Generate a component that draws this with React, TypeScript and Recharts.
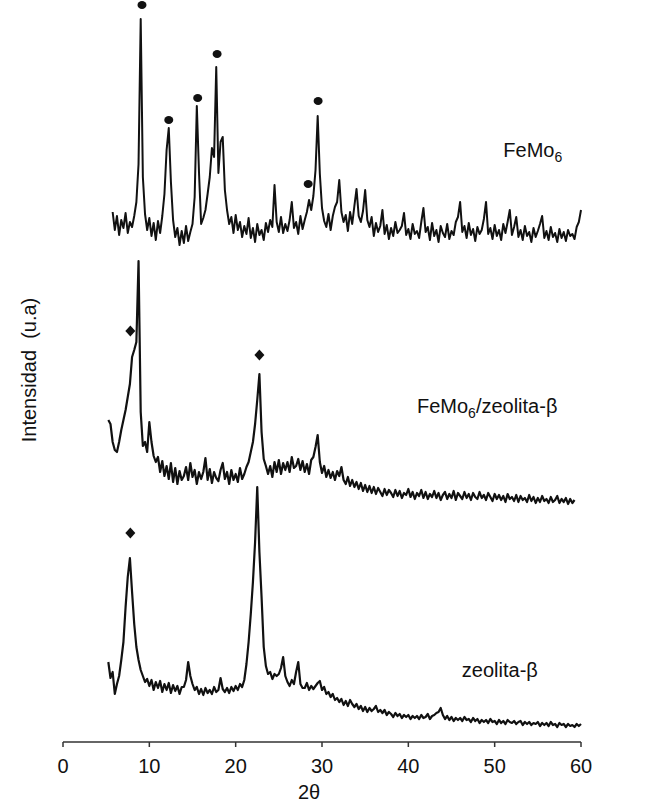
import {
    ComposedChart,
    Line,
    Scatter,
    XAxis,
    YAxis,
} from "recharts";

// scan step of the diffractograms (degrees 2θ)
const STEP = 0.25;

// FeMo6 pattern, starts at 5.75°, one row per degree
const feMo6Start = 5.75;
const feMo6Intensity = [
    530,
    512, 526, 507, 522, // 6
    514, 529, 509, 520, // 7
    515, 526, 540, 578, // 8
    723, 565, 528, 512, // 9
    524, 506, 519, 502, // 10
    521, 509, 526, 548, // 11
    592, 614, 560, 522, // 12
    505, 514, 497, 511, // 13
    499, 516, 501, 510, // 14
    518, 545, 636, 570, // 15
    518, 524, 532, 548, // 16
    565, 594, 585, 675, // 17
    569, 600, 605, 552, // 18
    532, 518, 525, 509, // 19
    527, 512, 520, 505, // 20
    516, 508, 524, 504, // 21
    514, 500, 518, 507, // 22
    512, 502, 519, 510, // 23
    522, 515, 557, 520, // 24
    510, 525, 509, 518, // 25
    511, 522, 540, 514, // 26
    520, 508, 526, 513, // 27
    522, 530, 542, 532, // 28
    546, 572, 626, 568, // 29
    534, 521, 515, 528, // 30
    512, 526, 535, 540, // 31
    562, 530, 520, 527, // 32
    511, 530, 518, 536, // 33
    553, 526, 520, 531, // 34
    552, 522, 515, 525, // 35
    506, 519, 510, 516, // 36
    532, 508, 517, 503, // 37
    514, 506, 520, 509, // 38
    512, 516, 529, 507, // 39
    513, 503, 518, 508, // 40
    511, 504, 520, 534, // 41
    510, 515, 502, 519, // 42
    506, 512, 500, 516, // 43
    509, 505, 518, 503, // 44
    511, 507, 520, 525, // 45
    540, 510, 516, 504, // 46
    519, 507, 513, 501, // 47
    515, 508, 512, 523, // 48
    540, 508, 514, 503, // 49
    517, 506, 512, 502, // 50
    518, 509, 520, 532, // 51
    507, 515, 525, 505, // 52
    512, 502, 516, 506, // 53
    510, 500, 514, 505, // 54
    511, 518, 526, 504, // 55
    511, 502, 515, 505, // 56
    509, 500, 513, 504, // 57
    510, 501, 512, 506, // 58
    508, 503, 515, 520, // 59
    532, // 60
];

// FeMo6/zeolita-β pattern, starts at 5.25°
const supportedStart = 5.25;
const supportedIntensity = [
    322, 318, 300,
    292, 290, 300, 312, // 6
    322, 332, 345, 358, // 7
    385, 392, 400, 481, // 8
    330, 296, 300, 290, // 9
    320, 300, 286, 280, // 10
    285, 270, 281, 266, // 11
    276, 263, 279, 260, // 12
    274, 258, 271, 262, // 13
    266, 275, 262, 279, // 14
    265, 272, 258, 270, // 15
    263, 270, 284, 262, // 16
    273, 259, 270, 264, // 17
    261, 272, 279, 263, // 18
    270, 258, 272, 262, // 19
    268, 260, 274, 263, // 20
    268, 275, 280, 290, // 21
    300, 318, 342, 368, // 22
    310, 283, 276, 268, // 23
    276, 265, 280, 270, // 24
    282, 268, 279, 272, // 25
    280, 270, 285, 274, // 26
    276, 283, 272, 281, // 27
    270, 278, 268, 282, // 28
    285, 295, 307, 280, // 29
    269, 276, 265, 272, // 30
    264, 270, 262, 271, // 31
    266, 275, 262, 258, // 32
    265, 256, 262, 255, // 33
    260, 253, 259, 251, // 34
    257, 250, 256, 249, // 35
    255, 248, 254, 250, // 36
    246, 253, 247, 252, // 37
    249, 245, 252, 246, // 38
    251, 244, 249, 247, // 39
    253, 245, 250, 243, // 40
    249, 246, 252, 244, // 41
    250, 243, 248, 245, // 42
    251, 244, 249, 242, // 43
    247, 250, 243, 248, // 44
    244, 251, 242, 249, // 45
    246, 243, 250, 244, // 46
    248, 242, 249, 245, // 47
    243, 250, 244, 247, // 48
    242, 249, 245, 241, // 49
    248, 243, 247, 242, // 50
    246, 240, 248, 243, // 51
    245, 241, 247, 240, // 52
    246, 242, 244, 240, // 53
    247, 241, 245, 239, // 54
    244, 240, 246, 241, // 55
    243, 239, 245, 240, // 56
    242, 246, 239, 243, // 57
    240, 244, 238, 243, // 58
    239, 242, // 59
];

// zeolita-β pattern, starts at 5.25°
const zeoliteStart = 5.25;
const zeoliteIntensity = [
    80, 64, 70,
    48, 58, 66, 82, // 6
    100, 135, 165, 184, // 7
    150, 118, 95, 82, // 8
    72, 66, 60, 63, // 9
    56, 62, 52, 60, // 10
    54, 61, 50, 58, // 11
    52, 59, 49, 57, // 12
    51, 56, 48, 55, // 13
    55, 62, 80, 66, // 14
    58, 52, 55, 48, // 15
    53, 47, 54, 49, // 16
    52, 48, 55, 50, // 17
    52, 64, 53, 50, // 18
    54, 49, 55, 51, // 19
    56, 52, 58, 55, // 20
    62, 78, 100, 128, // 21
    160, 200, 255, 190, // 22
    145, 95, 76, 68, // 23
    70, 63, 68, 66, // 24
    68, 74, 85, 66, // 25
    60, 56, 62, 58, // 26
    70, 80, 58, 54, // 27
    54, 59, 52, 56, // 28
    53, 56, 59, 61, // 29
    52, 55, 48, 50, // 30
    45, 48, 42, 44, // 31
    40, 43, 37, 41, // 32
    36, 42, 38, 35, // 33
    38, 33, 36, 31, // 34
    35, 30, 34, 31, // 35
    33, 36, 30, 32, // 36
    29, 32, 27, 30, // 37
    28, 25, 29, 26, // 38
    28, 24, 27, 25, // 39
    27, 23, 26, 24, // 40
    26, 23, 27, 24, // 41
    25, 28, 23, 26, // 42
    27, 29, 30, 34, // 43
    27, 23, 26, 22, // 44
    25, 21, 24, 22, // 45
    24, 21, 25, 22, // 46
    23, 20, 24, 21, // 47
    23, 19, 22, 20, // 48
    22, 19, 23, 20, // 49
    21, 18, 22, 19, // 50
    21, 18, 22, 20, // 51
    19, 21, 18, 20, // 52
    21, 17, 20, 18, // 53
    20, 17, 19, 18, // 54
    20, 16, 19, 17, // 55
    19, 16, 20, 17, // 56
    18, 15, 19, 17, // 57
    18, 15, 18, 16, // 58
    17, 15, 18, 16, // 59
    18, // 60
];

// peak markers: ● FeMo6 phase, ◆ zeolita-β
const circleMarks = [
    { x: 9.15, y: 737 },
    { x: 12.25, y: 622 },
    { x: 15.6, y: 644 },
    { x: 17.85, y: 688 },
    { x: 28.4, y: 558 },
    { x: 29.55, y: 641 },
];
const diamondMarks = [
    { x: 7.8, y: 411 },
    { x: 22.75, y: 387 },
    { x: 7.8, y: 209 },
];

// sample names written beside each trace
const sampleLabels = [
    { x: 51.0, y: 585, name: "FeMo", sub: "6", rest: "" },
    { x: 41.0, y: 329, name: "FeMo", sub: "6", rest: "/zeolita-β" },
    { x: 46.2, y: 65, name: "zeolita-β", sub: "", rest: "" },
];

const xTicks = [0, 10, 20, 30, 40, 50, 60];

const toPoints = (start: number, values: number[]) =>
    values.map((y, i) => ({ x: start + i * STEP, y }));

const feMo6Data = toPoints(feMo6Start, feMo6Intensity);
const supportedData = toPoints(supportedStart, supportedIntensity);
const zeoliteData = toPoints(zeoliteStart, zeoliteIntensity);

const FONT = "'Liberation Sans', Arial, Helvetica, sans-serif";
const INK = "#111";

const CircleMark = ({ cx, cy }: any) => (
    <ellipse cx={cx} cy={cy} rx={4.5} ry={4} fill={INK} />
);

const DiamondMark = ({ cx, cy }: any) => (
    <polygon
        points={`${cx},${cy - 5.5} ${cx + 5},${cy} ${cx},${cy + 5.5} ${cx - 5},${cy}`}
        fill={INK}
    />
);

const SampleLabel = ({ cx, cy, payload }: any) => (
    <text x={cx} y={cy} fontFamily={FONT} fontSize={20} fill={INK}>
        <tspan>{payload.name}</tspan>
        {payload.sub && (
            <tspan dy={5} fontSize={14}>
                {payload.sub}
            </tspan>
        )}
        {payload.rest && <tspan dy={-5}>{payload.rest}</tspan>}
    </text>
);

export default function App() {
    return (
        <div style={{ position: "absolute", left: 0, top: 0, background: "#fff" }}>
            <ComposedChart
                width={650}
                height={810}
                margin={{ top: 0, right: 69, left: 0, bottom: 0 }}
            >
                <XAxis
                    type="number"
                    dataKey="x"
                    domain={[0, 60]}
                    ticks={xTicks}
                    height={68}
                    tickSize={5}
                    tickMargin={12}
                    axisLine={{ stroke: "#333", strokeWidth: 1.5 }}
                    tickLine={{ stroke: "#333", strokeWidth: 1.5 }}
                    tick={{ fill: INK, fontSize: 20, fontFamily: FONT }}
                    label={{
                        content: () => (
                            <text
                                x={309}
                                y={799}
                                textAnchor="middle"
                                fontFamily={FONT}
                                fontSize={20}
                                fill={INK}
                            >
                                2θ
                            </text>
                        ),
                    }}
                />
                <YAxis
                    type="number"
                    dataKey="y"
                    domain={[0, 742]}
                    width={63}
                    axisLine={false}
                    tickLine={false}
                    tick={false}
                    label={{
                        content: () => (
                            <text
                                x={31}
                                y={370}
                                transform="rotate(-90 31 370)"
                                textAnchor="middle"
                                dominantBaseline="middle"
                                fontFamily={FONT}
                                fontSize={20}
                                fill={INK}
                                style={{ whiteSpace: "pre" }}
                            >
                                {"Intensidad  (u.a)"}
                            </text>
                        ),
                    }}
                />
                <Line
                    data={feMo6Data}
                    dataKey="y"
                    stroke={INK}
                    strokeWidth={2}
                    dot={false}
                    strokeLinejoin="round"
                    isAnimationActive={false}
                />
                <Line
                    data={supportedData}
                    dataKey="y"
                    stroke={INK}
                    strokeWidth={2.2}
                    dot={false}
                    strokeLinejoin="round"
                    isAnimationActive={false}
                />
                <Line
                    data={zeoliteData}
                    dataKey="y"
                    stroke={INK}
                    strokeWidth={2.2}
                    dot={false}
                    strokeLinejoin="round"
                    isAnimationActive={false}
                />
                <Scatter
                    data={circleMarks}
                    dataKey="y"
                    shape={<CircleMark />}
                    isAnimationActive={false}
                />
                <Scatter
                    data={diamondMarks}
                    dataKey="y"
                    shape={<DiamondMark />}
                    isAnimationActive={false}
                />
                <Scatter
                    data={sampleLabels}
                    dataKey="y"
                    shape={<SampleLabel />}
                    isAnimationActive={false}
                />
            </ComposedChart>
        </div>
    );
}
